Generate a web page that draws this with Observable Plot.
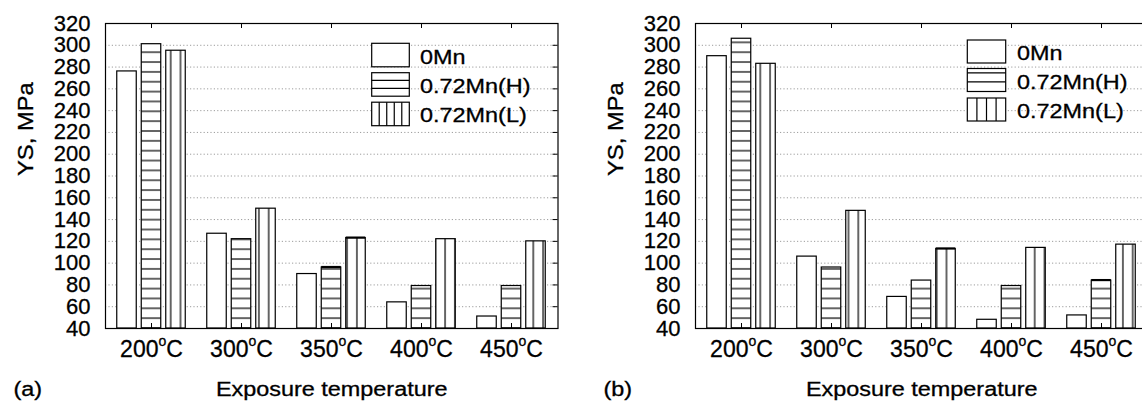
<!DOCTYPE html>
<html><head><meta charset="utf-8">
<script src="https://cdn.jsdelivr.net/npm/d3@7"></script>
<script src="https://cdn.jsdelivr.net/npm/@observablehq/plot@0.6"></script>
<style>
html,body{margin:0;padding:0;background:#fff;overflow:hidden}
#wrap{display:flex;width:1142px;height:410px;overflow:hidden;background:#fff}
#wrap svg{flex:none}
#wrap svg text{stroke:#000;stroke-width:0.3px}
</style></head><body><div id="wrap"></div>
<script>
// ---- data ----
const temps = [200, 300, 350, 400, 450];
const seriesNames = ["0Mn", "0.72Mn(H)", "0.72Mn(L)"];
const yTicks = [40, 60, 80, 100, 120, 140, 160, 180, 200, 220, 240, 260, 280, 300, 320];
const gridValues = [60, 80, 100, 120, 140, 160, 180, 200, 220, 240, 260, 280, 300];

const a_0Mn = [276, 127, 90, 64, 51];
const a_H   = [301, 122, 96, 79, 79];
const a_L   = [295, 150, 123, 122, 120];
const a_errH = [0, 0, 1, 0, 0];
const a_errL = [0, 0, 1, 0, 0];

const b_0Mn = [290, 106, 69, 48, 52];
const b_H   = [306, 96, 84, 79, 84];
const b_L   = [283, 148, 113, 114, 117];
const b_errH = [0, 0, 0, 0, 1];
const b_errL = [0, 0, 1, 0, 0];

const FONT = '"Liberation Sans", Arial, sans-serif';

function rowsFor(vals, errs) {
  const rows = [];
  seriesNames.forEach((s, si) => temps.forEach((t, ti) => rows.push({series: s, si, temp: t, value: vals[si][ti], err: errs[si][ti]})));
  return rows;
}

function makePanel(cfg) {
  const H = 410, mt = 23, mb = 82;
  const frameW = 452.5, frameH = H - mt - mb;
  const width = cfg.marginLeft + frameW + 13.5;
  const rows = rowsFor(cfg.values, cfg.errs);
  const band = frameW / temps.length, bw = 20, step = 24.5;
  const fills = ["white", `url(#hp-${cfg.id})`, `url(#vp-${cfg.id})`];
  const inset = i => ({insetLeft: band / 2 - bw / 2 + (i - 1) * step, insetRight: band / 2 - bw / 2 - (i - 1) * step});
  const marks = [
    Plot.gridY(gridValues, {stroke: "#9c9c9c", strokeOpacity: 1, strokeDasharray: "1.2,2.2", strokeWidth: 1}),
    ...seriesNames.map((s, i) => Plot.barY(rows.filter(r => r.si === i), {
      x: "temp", y1: () => 40, y2: "value", fill: fills[i], stroke: "black", strokeWidth: 1.2, ...inset(i)
    })),
    ...seriesNames.map((s, i) => Plot.barY(rows.filter(r => r.si === i && r.err > 0), {
      x: "temp", y1: d => d.value - d.err, y2: d => d.value + d.err, fill: "black", ...inset(i)
    })),
    Plot.frame({stroke: "black", strokeWidth: 1.2}),
    Plot.tickX(temps, {x: d => d, insetBottom: frameH - 5, stroke: "black"}),
    Plot.tickX(temps, {x: d => d, insetTop: frameH - 5, stroke: "black"}),
    Plot.tickY(gridValues, {y: d => d, insetLeft: frameW - 5, stroke: "black"}),
    Plot.axisX({tickSize: 0, tickPadding: 12, fontSize: 23, tickFormat: d => `${d}°C`, label: null}),
    Plot.text(yTicks, {y: d => d, text: d => String(d), frameAnchor: "left", dx: -15, textAnchor: "end", fontSize: 22, fill: "black"}),
    Plot.text(["YS, MPa"], {text: d => d, frameAnchor: "left", dx: cfg.ylabX - cfg.marginLeft, rotate: -90, fontSize: 22, fill: "black"}),
    Plot.text(["Exposure temperature"], {text: d => d, frameAnchor: "bottom", dy: 67.5, fontSize: 19.5, fill: "black"}),
    Plot.text([cfg.tag], {text: d => d, frameAnchor: "bottom-left", dx: cfg.tagX - cfg.marginLeft, dy: 67.5, textAnchor: "start", fontSize: 19.5, fill: "black"})
  ];
  const svg = Plot.plot({
    width, height: H, marginTop: mt, marginBottom: mb, marginLeft: cfg.marginLeft, marginRight: 13.5,
    x: {type: "band", domain: temps, padding: 0},
    y: {domain: [40, 320], axis: null},
    style: {fontFamily: FONT, color: "black", background: "white", overflow: "visible"},
    marks
  });
  const sel = d3.select(svg);
  const defs = sel.insert("defs", ":first-child");
  const bottom = H - mb, ph = 9.85, pw = 9.8;
  const hp = defs.append("pattern").attr("id", `hp-${cfg.id}`).attr("patternUnits", "userSpaceOnUse")
    .attr("x", 0).attr("y", bottom - ph / 2).attr("width", 10).attr("height", ph);
  hp.append("rect").attr("width", 10).attr("height", ph).attr("fill", "white");
  hp.append("line").attr("x1", 0).attr("x2", 10).attr("y1", ph / 2).attr("y2", ph / 2).attr("stroke", "black").attr("stroke-width", 1.2);
  const vp = defs.append("pattern").attr("id", `vp-${cfg.id}`).attr("patternUnits", "userSpaceOnUse")
    .attr("x", cfg.vOffset - pw / 2).attr("y", 0).attr("width", pw).attr("height", 10);
  vp.append("rect").attr("width", pw).attr("height", 10).attr("fill", "white");
  vp.append("line").attr("x1", pw / 2).attr("x2", pw / 2).attr("y1", 0).attr("y2", 10).attr("stroke", "black").attr("stroke-width", 1.2);

  // legend
  const lg = sel.append("g").attr("font-family", FONT).attr("font-size", 20).attr("text-anchor", "start");
  const L = cfg.legend;
  seriesNames.forEach((s, i) => {
    const y = L.rows[i];
    lg.append("rect").attr("x", L.x).attr("y", y).attr("width", L.w).attr("height", L.h)
      .attr("fill", "white").attr("stroke", "black").attr("stroke-width", 1.2);
    if (i === 1) L.hFrac.forEach(f => lg.append("line").attr("x1", L.x).attr("x2", L.x + L.w)
      .attr("y1", y + f * L.h).attr("y2", y + f * L.h).attr("stroke", "black").attr("stroke-width", 1.2));
    if (i === 2) for (let k = 1; k < L.vN; k++) lg.append("line").attr("x1", L.x + k * L.w / L.vN).attr("x2", L.x + k * L.w / L.vN)
      .attr("y1", y).attr("y2", y + L.h).attr("stroke", "black").attr("stroke-width", 1.2);
    lg.append("text").attr("class", "lgtext").attr("x", L.tx).attr("y", L.base[i])
      .attr("text-anchor", "start").attr("fill", "black").text(s);
  });
  return svg;
}

const wrap = document.getElementById("wrap");
const svgA = makePanel({
  id: "a", tag: "(a)", values: [a_0Mn, a_H, a_L], errs: [[0,0,0,0,0], a_errH, a_errL],
  marginLeft: 105, ylabX: 25, tagX: 13, vOffset: 4.1,
  legend: {x: 371.7, w: 37.6, h: 23.5, rows: [43.3, 72.7, 102.2], tx: 420, base: [64, 93, 122], hFrac: [0.33, 0.67], vN: 5}
});
const svgB = makePanel({
  id: "b", tag: "(b)", values: [b_0Mn, b_H, b_L], errs: [[0,0,0,0,0], b_errH, b_errL],
  marginLeft: 124, ylabX: 44, tagX: 32, vOffset: 3.1,
  legend: {x: 396.3, w: 38.4, h: 23, rows: [40, 68.5, 98], tx: 446, base: [60, 88.5, 117.5], hFrac: [0.19, 0.58], vN: 4}
});
wrap.appendChild(svgA);
wrap.appendChild(svgB);

function stretch(el, factor) {
  try {
    const len = el.getComputedTextLength();
    if (len > 0) { el.setAttribute("textLength", (len * factor).toFixed(1)); el.setAttribute("lengthAdjust", "spacingAndGlyphs"); }
  } catch (e) {}
}
[svgA, svgB].forEach(svg => {
  d3.select(svg).selectAll("text").each(function () {
    const t = this.textContent;
    if (t === "Exposure temperature" || t === "(a)" || t === "(b)") stretch(this, 1.2);
    else if (t === "YS, MPa") stretch(this, 1.08);
    else if (this.getAttribute("class") === "lgtext") stretch(this, 1.17);
  });
  d3.select(svg).selectAll('g[aria-label="x-axis tick label"] text').each(function () {
    const t = d3.select(this);
    const txt = t.text();
    if (!txt.endsWith("°C")) return;
    const num = txt.replace("°C", "");
    t.text(null);
    t.append("tspan").text(num);
    t.append("tspan").attr("font-size", 14).attr("dy", -11).text("o");
    t.append("tspan").attr("dy", 11).text("C");
  });
});
</script></body></html>
